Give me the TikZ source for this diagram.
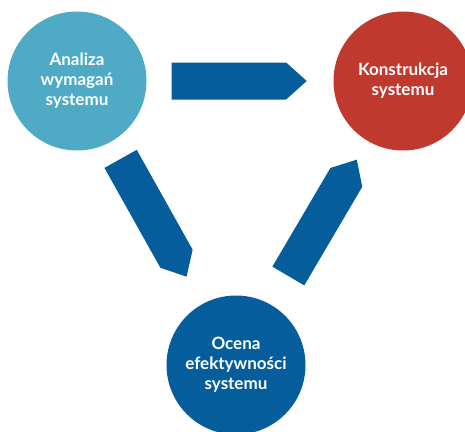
\documentclass[tikz,border=0pt]{standalone}
\usepackage{fontspec}
\setmainfont{Lato}
\usetikzlibrary{shapes.symbols}

\definecolor{jasnyniebieski}{HTML}{4FAAC6}
\definecolor{czerwony}{HTML}{C0392F}
\definecolor{granatowy}{HTML}{055E9B}

\begin{document}
\begin{tikzpicture}[x=1pt,y=-1pt,
  etap/.style={circle,minimum size=139pt,inner sep=0pt,align=center,text=white,
    font=\bfseries\fontsize{17}{20}\selectfont},
  strzalka/.style={signal,signal to=east,signal pointer angle=84,fill=granatowy,
    minimum width=135pt,minimum height=37pt,inner sep=0pt,sloped,allow upside down}]
\useasboundingbox (0,0) rectangle (465,431);

\node[etap,fill=jasnyniebieski] (analiza) at (77,81) {Analiza\\wymagań\\systemu};
\node[etap,fill=czerwony] (konstrukcja) at (403,81) {Konstrukcja\\systemu};
\node[etap,fill=granatowy] (ocena) at (236,365) {Ocena\\efektywności\\systemu};

\path (analiza.center) -- node[strzalka,pos=0.466] (s1) {} (konstrukcja.center);
\path (analiza.center) -- node[strzalka,pos=0.45] (s2) {} (ocena.center);
\path (ocena.center) -- node[strzalka,pos=0.487] (s3) {} (konstrukcja.center);
\end{tikzpicture}
\end{document}
